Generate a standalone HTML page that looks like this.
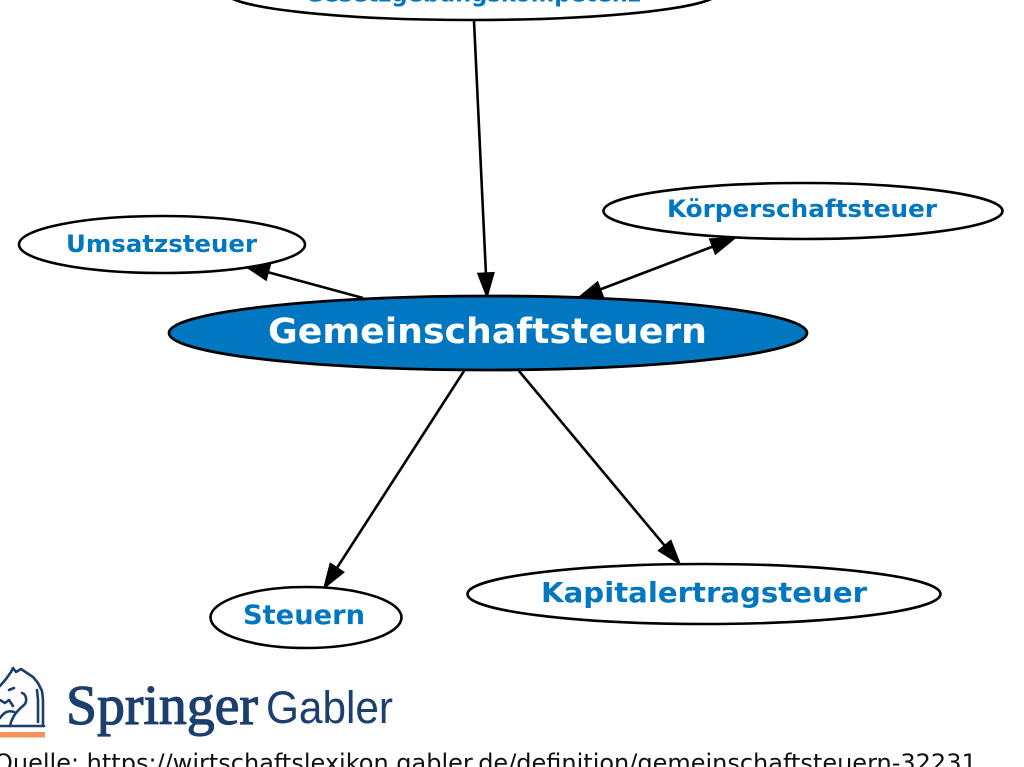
<!DOCTYPE html>
<html>
<head>
<meta charset="utf-8">
<style>
  html, body { margin:0; padding:0; background:#ffffff; }
  body { width:1024px; height:767px; overflow:hidden; position:relative; }
  svg { position:absolute; left:0; top:0; }
  .lbl { font-family:"DejaVu Sans","Liberation Sans",sans-serif; font-weight:bold; fill:#0077c0; }
</style>
</head>
<body>
<svg width="1024" height="767" viewBox="0 0 1024 767" xmlns="http://www.w3.org/2000/svg">
  <!-- Top node (cut off) -->
  <ellipse cx="472" cy="-8" rx="247" ry="28" fill="#ffffff" stroke="#000" stroke-width="2.6"/>
  <text class="lbl" x="305" y="1.5" font-size="23" textLength="336" lengthAdjust="spacingAndGlyphs">Gesetzgebungskompetenz</text>

  <!-- Edges -->
  <g stroke="#000" stroke-width="2.6" fill="none">
    <line x1="474" y1="21" x2="485.9" y2="273"/>
    <line x1="363" y1="298" x2="268.2" y2="272.3"/>
    <line x1="600.4" y1="289.4" x2="712.6" y2="246.6"/>
    <line x1="464" y1="371" x2="337" y2="567.8"/>
    <line x1="519" y1="371" x2="664.6" y2="545.6"/>
  </g>
  <g fill="#000" stroke="#000" stroke-width="1.5" stroke-linejoin="miter">
    <polygon points="487,297 477.9,273.4 493.9,272.7"/>
    <polygon points="245,266 270.3,264.6 266.1,280.0"/>
    <polygon points="735,238 715.4,254.0 709.7,239.1"/>
    <polygon points="578,298 603.3,296.9 597.6,282.0"/>
    <polygon points="324,588 330.3,563.5 343.7,572.2"/>
    <polygon points="680,564 658.5,550.7 670.8,540.5"/>
  </g>

  <!-- Umsatzsteuer -->
  <ellipse cx="162" cy="244.5" rx="143" ry="28.5" fill="#ffffff" stroke="#000" stroke-width="2.6"/>
  <text class="lbl" x="66" y="252" font-size="24" textLength="191" lengthAdjust="spacingAndGlyphs">Umsatzsteuer</text>

  <!-- Körperschaftsteuer -->
  <ellipse cx="803" cy="211" rx="199.5" ry="28" fill="#ffffff" stroke="#000" stroke-width="2.6"/>
  <text class="lbl" x="667" y="217" font-size="24" textLength="270" lengthAdjust="spacingAndGlyphs">Körperschaftsteuer</text>

  <!-- Main node -->
  <ellipse cx="488" cy="333" rx="319" ry="37" fill="#0077c0" stroke="#000" stroke-width="2.8"/>
  <text x="268" y="343" font-family="DejaVu Sans, Liberation Sans, sans-serif" font-weight="bold" font-size="35" fill="#ffffff" textLength="439" lengthAdjust="spacingAndGlyphs">Gemeinschaftsteuern</text>

  <!-- Steuern -->
  <ellipse cx="306" cy="617.5" rx="95.5" ry="30.5" fill="#ffffff" stroke="#000" stroke-width="2.6"/>
  <text class="lbl" x="243" y="624" font-size="27" textLength="122" lengthAdjust="spacingAndGlyphs">Steuern</text>

  <!-- Kapitalertragsteuer -->
  <ellipse cx="704" cy="594" rx="236.5" ry="30" fill="#ffffff" stroke="#000" stroke-width="2.6"/>
  <text class="lbl" x="541" y="602" font-size="28" textLength="326" lengthAdjust="spacingAndGlyphs">Kapitalertragsteuer</text>

  <!-- Springer Gabler logo -->
  <g fill="none" stroke="#1d3f6e" stroke-width="2.6" stroke-linejoin="round" stroke-linecap="round">
    <path d="M0,686 L6,679 L11,672 L13,668 L16,672 L21,669 L27,673 L33,677 L38,683 L42,691 L43,700 L43,726"/>
    <path d="M37,690 L38,700 L38,722"/>
    <path d="M0,700 L5,703 L9,700 L13,706 M9,690 L14,688"/>
    <path d="M10,726 C12,716 18,710 24,705 C28,701 26,694 22,693"/>
    <path d="M0,718 C4,712 9,710 14,712"/>
    <path d="M0,726 L44,726"/>
  </g>
  <rect x="0" y="732" width="45" height="5.5" fill="#f4915d"/>
  <text x="66" y="724" font-family="Liberation Serif, serif" font-size="56" fill="#1d3f6e" stroke="#1d3f6e" stroke-width="1.2" textLength="192" lengthAdjust="spacingAndGlyphs">Springer</text>
  <text x="266" y="723" font-family="Liberation Sans, sans-serif" font-size="45" fill="#1d3f6e" textLength="127" lengthAdjust="spacingAndGlyphs">Gabler</text>

  <!-- Source line (cut off) -->
  <text x="-6" y="771" font-family="DejaVu Sans, Liberation Sans, sans-serif" font-size="24" fill="#111">Quelle: https://wirtschaftslexikon.gabler.de/definition/gemeinschaftsteuern-32231</text>
</svg>
</body>
</html>
